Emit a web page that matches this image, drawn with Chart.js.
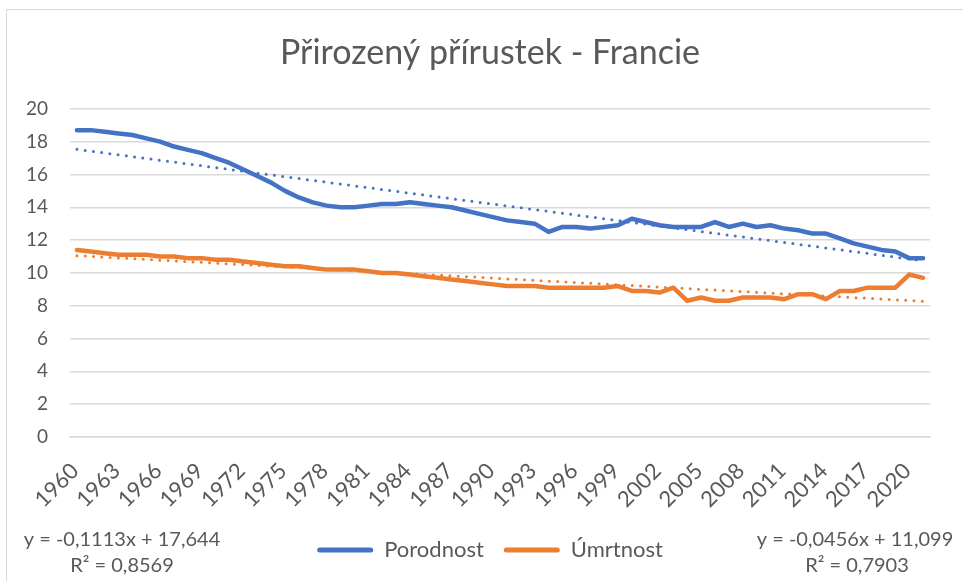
<!DOCTYPE html>
<html>
<head>
<meta charset="utf-8">
<script src="https://cdn.jsdelivr.net/npm/chart.js@4.4.1/dist/chart.umd.min.js"></script>
<style>
  html, body { margin: 0; padding: 0; background: #fff; }
  #wrap { position: relative; width: 963px; height: 581px; }
  #frame { position: absolute; left: 6px; top: 9px; width: 980px; height: 600px; border: 1px solid #d9d9d9; box-sizing: border-box; pointer-events: none; }
</style>
</head>
<body>
<div id="wrap">
  <canvas id="chart" width="963" height="581"></canvas>
  <div id="frame"></div>
</div>
<script>
// Data
const years = [];
for (let y = 1960; y <= 2021; y++) years.push(String(y));

const porodnost = [
  18.7, 18.7, 18.6, 18.5, 18.4, 18.2, 18.0, 17.7, 17.5, 17.3,
  17.0, 16.7, 16.3, 15.9, 15.5, 15.0, 14.6, 14.3, 14.1, 14.0,
  14.0, 14.1, 14.2, 14.2, 14.3, 14.2, 14.1, 14.0, 13.8, 13.6,
  13.4, 13.2, 13.1, 13.0, 12.5, 12.8, 12.8, 12.7, 12.8, 12.9,
  13.3, 13.1, 12.9, 12.8, 12.8, 12.8, 13.1, 12.8, 13.0, 12.8,
  12.9, 12.7, 12.6, 12.4, 12.4, 12.1, 11.8, 11.6, 11.4, 11.3,
  10.9, 10.9
];

const umrtnost = [
  11.4, 11.3, 11.2, 11.1, 11.1, 11.1, 11.0, 11.0, 10.9, 10.9,
  10.8, 10.8, 10.7, 10.6, 10.5, 10.4, 10.4, 10.3, 10.2, 10.2,
  10.2, 10.1, 10.0, 10.0, 9.9, 9.8, 9.7, 9.6, 9.5, 9.4,
  9.3, 9.2, 9.2, 9.2, 9.1, 9.1, 9.1, 9.1, 9.1, 9.2,
  8.9, 8.9, 8.8, 9.1, 8.3, 8.5, 8.3, 8.3, 8.5, 8.5,
  8.5, 8.4, 8.7, 8.7, 8.4, 8.9, 8.9, 9.1, 9.1, 9.1,
  9.9, 9.7
];

// linear trendline end values (first and last year)
const trendPorodnost = [17.53, 10.74];
const trendUmrtnost = [11.05, 8.27];

const eqPorodnost = ["y = -0,1113x + 17,644", "R² = 0,8569"];
const eqUmrtnost = ["y = -0,0456x + 11,099", "R² = 0,7903"];

const BLUE = "#4472C4";
const ORANGE = "#ED7D31";
const TEXT = "#595959";
const GRID = "#d9d9d9";
const FONT = "Lato, 'Noto Sans', sans-serif";

function endsOnly(pair) {
  return years.map((_, i) => (i === 0 ? pair[0] : i === years.length - 1 ? pair[1] : null));
}

// trendline equation labels below the plot
const equations = {
  id: "equations",
  afterDraw(chart) {
    const ctx = chart.ctx;
    ctx.save();
    ctx.fillStyle = TEXT;
    ctx.font = "20px " + FONT;
    ctx.textAlign = "center";
    ctx.textBaseline = "middle";
    ctx.fillText(eqPorodnost[0], 122, 540);
    ctx.fillText(eqPorodnost[1], 122, 566);
    ctx.fillText(eqUmrtnost[0], 855, 540);
    ctx.fillText(eqUmrtnost[1], 857, 566);
    ctx.restore();
  },
};

new Chart(document.getElementById("chart"), {
  type: "line",
  data: {
    labels: years,
    datasets: [
      {
        label: "Porodnost",
        data: porodnost,
        borderColor: BLUE,
        backgroundColor: BLUE,
        borderWidth: 4.5,
        pointRadius: 0,
        borderCapStyle: "round",
        borderJoinStyle: "round",
      },
      {
        label: "Úmrtnost",
        data: umrtnost,
        borderColor: ORANGE,
        backgroundColor: ORANGE,
        borderWidth: 4.5,
        pointRadius: 0,
        borderCapStyle: "round",
        borderJoinStyle: "round",
      },
      {
        label: "trend Porodnost",
        data: endsOnly(trendPorodnost),
        borderColor: BLUE,
        borderWidth: 3,
        borderDash: [0, 8.3],
        borderCapStyle: "round",
        pointRadius: 0,
        spanGaps: true,
      },
      {
        label: "trend Úmrtnost",
        data: endsOnly(trendUmrtnost),
        borderColor: ORANGE,
        borderWidth: 3,
        borderDash: [0, 8.3],
        borderCapStyle: "round",
        pointRadius: 0,
        spanGaps: true,
      },
    ],
  },
  options: {
    responsive: false,
    animation: false,
    layout: { padding: { left: 20, right: 3, top: 22, bottom: 10 } },
    plugins: {
      title: {
        display: true,
        text: "Přirozený přírustek - Francie",
        color: TEXT,
        font: { size: 34, family: FONT, weight: "normal" },
        padding: { top: 11, bottom: 35 },
      },
      legend: {
        position: "bottom",
        labels: {
          color: TEXT,
          font: { size: 22, family: FONT },
          boxWidth: 56,
          boxHeight: 5,
          padding: 20,
          generateLabels(chart) {
            return chart.data.datasets.slice(0, 2).map((ds, i) => ({
              text: ds.label,
              fillStyle: ds.borderColor,
              strokeStyle: ds.borderColor,
              lineWidth: 0,
              borderRadius: 2.5,
              fontColor: TEXT,
              datasetIndex: i,
            }));
          },
        },
      },
      tooltip: { enabled: false },
    },
    scales: {
      x: {
        offset: true,
        grid: { display: false, drawTicks: false },
        border: { color: GRID, width: 1.5 },
        ticks: {
          color: TEXT,
          font: { size: 22, family: FONT },
          autoSkip: false,
          maxRotation: 45,
          minRotation: 45,
          padding: 21,
          labelOffset: -2,
          callback(value, index) {
            return index % 3 === 0 ? this.getLabelForValue(value) : "";
          },
        },
        afterFit(scale) { scale.height = 82; },
      },
      y: {
        min: 0,
        max: 20,
        grid: { color: GRID, lineWidth: 1.5, drawTicks: false },
        border: { display: false },
        ticks: {
          stepSize: 2,
          color: TEXT,
          font: { size: 19, family: FONT },
          padding: 22,
        },
        afterFit(scale) { scale.width = 50; },
      },
      // empty right margin so title and legend sit centred like the original
      yRight: {
        type: "linear",
        position: "right",
        grid: { display: false, drawTicks: false },
        border: { display: false },
        ticks: { display: false },
        afterFit(scale) { scale.width = 30; },
      },
    },
  },
  plugins: [equations],
});
</script>
</body>
</html>
